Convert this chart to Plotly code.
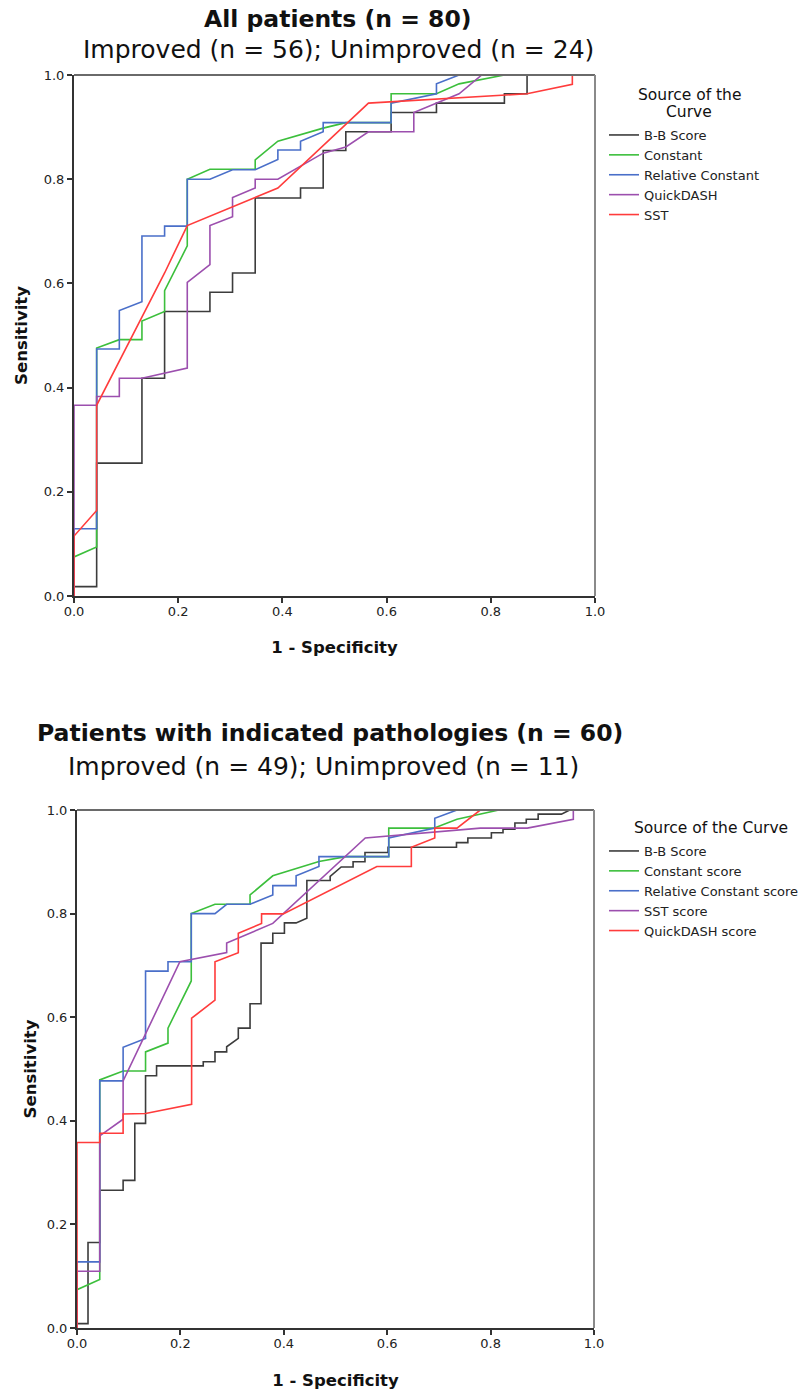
import plotly.graph_objects as go

W, H = 805, 1393

# ---------------- Data: All patients (top panel) ----------------
bb_fpr_all = [0, 0, 0.0435, 0.0435, 0.1304, 0.1304, 0.1739, 0.1739, 0.2609, 0.2609, 0.3043, 0.3043, 0.3478, 0.3478,
              0.4348, 0.4348, 0.4783, 0.4783, 0.5217, 0.5217, 0.6087, 0.6087, 0.6957, 0.6957, 0.8261, 0.8261,
              0.8696, 0.8696, 1.0]
bb_tpr_all = [0, 0.018, 0.018, 0.255, 0.255, 0.418, 0.418, 0.546, 0.546, 0.583, 0.583, 0.62, 0.62, 0.764,
              0.764, 0.783, 0.783, 0.855, 0.855, 0.891, 0.891, 0.928, 0.928, 0.946, 0.946, 0.964,
              0.964, 1.0, 1.0]

const_fpr_all = [0, 0, 0.0435, 0.0435, 0.087, 0.1304, 0.1304, 0.1739, 0.1739, 0.2174, 0.2174, 0.2609, 0.3478,
                 0.3478, 0.3913, 0.4783, 0.5217, 0.6087, 0.6087, 0.6957, 0.7391, 0.8261, 1.0]
const_tpr_all = [0, 0.075, 0.094, 0.476, 0.492, 0.492, 0.528, 0.546, 0.586, 0.672, 0.8, 0.819, 0.819,
                 0.837, 0.873, 0.898, 0.9085, 0.9085, 0.964, 0.964, 0.983, 1.0, 1.0]

relc_fpr_all = [0, 0, 0.0435, 0.0435, 0.087, 0.087, 0.1304, 0.1304, 0.1739, 0.1739, 0.2174, 0.2174, 0.2609,
                0.3043, 0.3478, 0.3913, 0.3913, 0.4348, 0.4348, 0.4783, 0.4783, 0.6087, 0.6087, 0.6957,
                0.6957, 0.7391, 1.0]
relc_tpr_all = [0, 0.129, 0.129, 0.474, 0.474, 0.548, 0.565, 0.691, 0.691, 0.71, 0.71, 0.8, 0.8,
                0.818, 0.818, 0.838, 0.856, 0.856, 0.873, 0.891, 0.9085, 0.9085, 0.946, 0.964,
                0.983, 1.0, 1.0]

qd_fpr_all = [0, 0, 0.0435, 0.0435, 0.087, 0.087, 0.1304, 0.2174, 0.2174, 0.2609, 0.2609, 0.3043, 0.3043,
              0.3478, 0.3478, 0.3913, 0.4783, 0.5217, 0.5652, 0.6522, 0.6522, 0.6957, 0.7391, 0.7826, 1.0]
qd_tpr_all = [0, 0.366, 0.366, 0.383, 0.383, 0.418, 0.418, 0.4375, 0.602, 0.636, 0.711, 0.728, 0.765,
              0.783, 0.8, 0.8, 0.85, 0.862, 0.891, 0.891, 0.928, 0.946, 0.964, 1.0, 1.0]

sst_fpr_all = [0, 0, 0.0435, 0.0435, 0.1739, 0.2174, 0.3913, 0.5652, 0.8696, 0.9565, 0.9565, 1.0]
sst_tpr_all = [0, 0.115, 0.164, 0.366, 0.62, 0.711, 0.783, 0.946, 0.964, 0.982, 1.0, 1.0]

# ---------------- Data: Patients with indicated pathologies (bottom panel) ----------------
bb_fpr_ind = [0, 0, 0.0213, 0.0213, 0.044, 0.044, 0.0892, 0.0892, 0.1118, 0.1118, 0.1326, 0.1326, 0.1539,
              0.1539, 0.2442, 0.2442, 0.2669, 0.2669, 0.2895, 0.2895, 0.312, 0.312, 0.3347, 0.3347, 0.356,
              0.356, 0.3787, 0.3787, 0.4012, 0.4012, 0.4238, 0.4446, 0.4446, 0.4897, 0.4897, 0.511, 0.534,
              0.534, 0.557, 0.557, 0.6016, 0.6016, 0.734, 0.734, 0.756, 0.756, 0.8015, 0.8015, 0.824,
              0.824, 0.847, 0.847, 0.869, 0.869, 0.892, 0.892, 0.937, 0.953, 1.0]
bb_tpr_ind = [0, 0.0085, 0.0085, 0.165, 0.165, 0.266, 0.266, 0.285, 0.285, 0.395, 0.395, 0.487, 0.487,
              0.506, 0.506, 0.514, 0.514, 0.533, 0.533, 0.543, 0.559, 0.579, 0.579, 0.626, 0.626,
              0.743, 0.743, 0.762, 0.762, 0.782, 0.782, 0.791, 0.864, 0.864, 0.872, 0.89, 0.89,
              0.9, 0.9, 0.918, 0.918, 0.928, 0.928, 0.937, 0.937, 0.946, 0.946, 0.956, 0.956,
              0.963, 0.963, 0.975, 0.975, 0.982, 0.982, 0.992, 0.992, 1.0, 1.0]

const_fpr_ind = [0, 0, 0.044, 0.044, 0.0892, 0.1326, 0.1326, 0.176, 0.176, 0.221, 0.221, 0.2669, 0.3347,
                 0.3347, 0.3787, 0.468, 0.52, 0.603, 0.603, 0.69, 0.735, 0.816, 1.0]
const_tpr_ind = [0, 0.074, 0.0935, 0.479, 0.496, 0.496, 0.533, 0.55, 0.579, 0.67, 0.8, 0.818, 0.818,
                 0.836, 0.873, 0.9005, 0.91, 0.91, 0.965, 0.965, 0.982, 1.0, 1.0]

relc_fpr_ind = [0, 0, 0.044, 0.044, 0.0892, 0.0892, 0.1326, 0.1326, 0.176, 0.176, 0.221, 0.221, 0.2669,
                0.2895, 0.3347, 0.3787, 0.3787, 0.4238, 0.4238, 0.468, 0.468, 0.603, 0.603, 0.692,
                0.692, 0.735, 1.0]
relc_tpr_ind = [0, 0.1276, 0.1276, 0.477, 0.477, 0.542, 0.559, 0.689, 0.689, 0.707, 0.707, 0.8, 0.8,
                0.818, 0.818, 0.836, 0.854, 0.854, 0.873, 0.891, 0.91, 0.91, 0.946, 0.965,
                0.984, 1.0, 1.0]

sst_fpr_ind = [0, 0, 0.044, 0.044, 0.0892, 0.0892, 0.199, 0.2895, 0.2895, 0.3787, 0.5576, 0.78, 0.871,
               0.96, 0.96, 1.0]
sst_tpr_ind = [0, 0.1096, 0.1096, 0.371, 0.403, 0.477, 0.707, 0.7246, 0.743, 0.781, 0.946, 0.965, 0.965,
               0.982, 1.0, 1.0]

qd_fpr_ind = [0, 0, 0.044, 0.044, 0.0892, 0.0892, 0.1326, 0.2217, 0.2217, 0.2669, 0.2669, 0.312, 0.312,
              0.357, 0.357, 0.399, 0.58, 0.6467, 0.6467, 0.692, 0.692, 0.735, 0.78, 1.0]
qd_tpr_ind = [0, 0.358, 0.358, 0.376, 0.376, 0.413, 0.414, 0.4317, 0.598, 0.633, 0.707, 0.7246, 0.762,
              0.781, 0.7995, 0.7995, 0.891, 0.891, 0.928, 0.946, 0.965, 0.965, 1.0, 1.0]

tick_vals = [0.0, 0.2, 0.4, 0.6, 0.8, 1.0]
tick_text = ["0.0", "0.2", "0.4", "0.6", "0.8", "1.0"]

names_all = ["B-B Score", "Constant", "Relative Constant", "QuickDASH", "SST"]
names_ind = ["B-B Score", "Constant score", "Relative Constant score", "SST score", "QuickDASH score"]
colors = ["#3c3c3c", "#3cbf3c", "#4a6fc9", "#9c4fae", "#ff3c3c"]

FONT = "DejaVu Sans"

fig = go.Figure()

series_all = [(bb_fpr_all, bb_tpr_all), (const_fpr_all, const_tpr_all), (relc_fpr_all, relc_tpr_all),
              (qd_fpr_all, qd_tpr_all), (sst_fpr_all, sst_tpr_all)]
series_ind = [(bb_fpr_ind, bb_tpr_ind), (const_fpr_ind, const_tpr_ind), (relc_fpr_ind, relc_tpr_ind),
              (sst_fpr_ind, sst_tpr_ind), (qd_fpr_ind, qd_tpr_ind)]

for (xs, ys), nm, c in zip(series_all, names_all, colors):
    fig.add_trace(go.Scatter(x=xs, y=ys, mode="lines", name=nm, line=dict(color=c, width=1.6),
                             xaxis="x", yaxis="y", legend="legend"))
for (xs, ys), nm, c in zip(series_ind, names_ind, colors):
    fig.add_trace(go.Scatter(x=xs, y=ys, mode="lines", name=nm, line=dict(color=c, width=1.6),
                             xaxis="x2", yaxis="y2", legend="legend2"))


def px_x(p):
    return p / W


def px_y(p):
    return 1 - p / H


axis_common = dict(range=[0, 1], tickvals=tick_vals, ticktext=tick_text, ticks="outside", ticklen=5,
                   tickwidth=1.5, tickcolor="#333333", showline=True, linecolor="#333333", linewidth=2,
                   showgrid=False, zeroline=False, fixedrange=True, automargin=False,
                   tickfont=dict(family=FONT, size=13, color="#222222"))

title_font = dict(family=FONT, size=16.5, color="#111")

fig.update_layout(
    width=W, height=H, margin=dict(l=0, r=0, t=0, b=0, autoexpand=False),
    paper_bgcolor="white", plot_bgcolor="white", showlegend=True,
    xaxis=dict(domain=[px_x(74), px_x(595)], anchor="y", ticklabelstandoff=-3,
               title=dict(text="<b>1 - Specificity</b>", font=title_font, standoff=24),
               **axis_common),
    yaxis=dict(domain=[px_y(596), px_y(75)], anchor="x",
               title=dict(text="<b>Sensitivity</b>", font=title_font, standoff=12),
               **axis_common),
    xaxis2=dict(domain=[px_x(77), px_x(594)], anchor="y2", ticklabelstandoff=-3,
                title=dict(text="<b>1 - Specificity</b>", font=title_font, standoff=25),
                **axis_common),
    yaxis2=dict(domain=[px_y(1328), px_y(810)], anchor="x2",
                title=dict(text="<b>Sensitivity</b>", font=title_font, standoff=6),
                **axis_common),
    legend=dict(x=px_x(604), y=px_y(120), xanchor="left", yanchor="top", bgcolor="rgba(0,0,0,0)",
                font=dict(family=FONT, size=13, color="#222"), itemwidth=30, tracegroupgap=0),
    legend2=dict(x=px_x(604), y=px_y(836), xanchor="left", yanchor="top", bgcolor="rgba(0,0,0,0)",
                 font=dict(family=FONT, size=13, color="#222"), itemwidth=30, tracegroupgap=0),
)

# top / right frame lines (lighter than the axes)
for xr, yr in [("x", "y"), ("x2", "y2")]:
    fig.add_shape(type="line", xref=f"{xr} domain", yref=f"{yr} domain", x0=0, x1=1, y0=1, y1=1,
                  line=dict(color="#6a6a6a", width=2))
    fig.add_shape(type="line", xref=f"{xr} domain", yref=f"{yr} domain", x0=1, x1=1, y0=0, y1=1,
                  line=dict(color="#8a8a8a", width=2))

annotations = [
    dict(text="<b>All patients (n = 80)</b>", x=px_x(338), y=px_y(19), size=23.5),
    dict(text="Improved (n = 56); Unimproved (n = 24)", x=px_x(338.5), y=px_y(49), size=25),
    dict(text="<b>Patients with indicated pathologies (n = 60)</b>", x=px_x(330), y=px_y(733), size=23.5),
    dict(text="Improved (n = 49); Unimproved (n = 11)", x=px_x(323.5), y=px_y(767), size=25),
    dict(text="Source of the", x=px_x(689), y=px_y(95), size=15.5),
    dict(text="Curve", x=px_x(689), y=px_y(112), size=15.5),
    dict(text="Source of the Curve", x=px_x(711), y=px_y(828), size=15.5),
]
for a in annotations:
    fig.add_annotation(text=a["text"], x=a["x"], y=a["y"], xref="paper", yref="paper",
                       xanchor="center", yanchor="middle", showarrow=False, align="center",
                       font=dict(family=FONT, size=a["size"], color="#111111"))

fig.write_html("out.html")
